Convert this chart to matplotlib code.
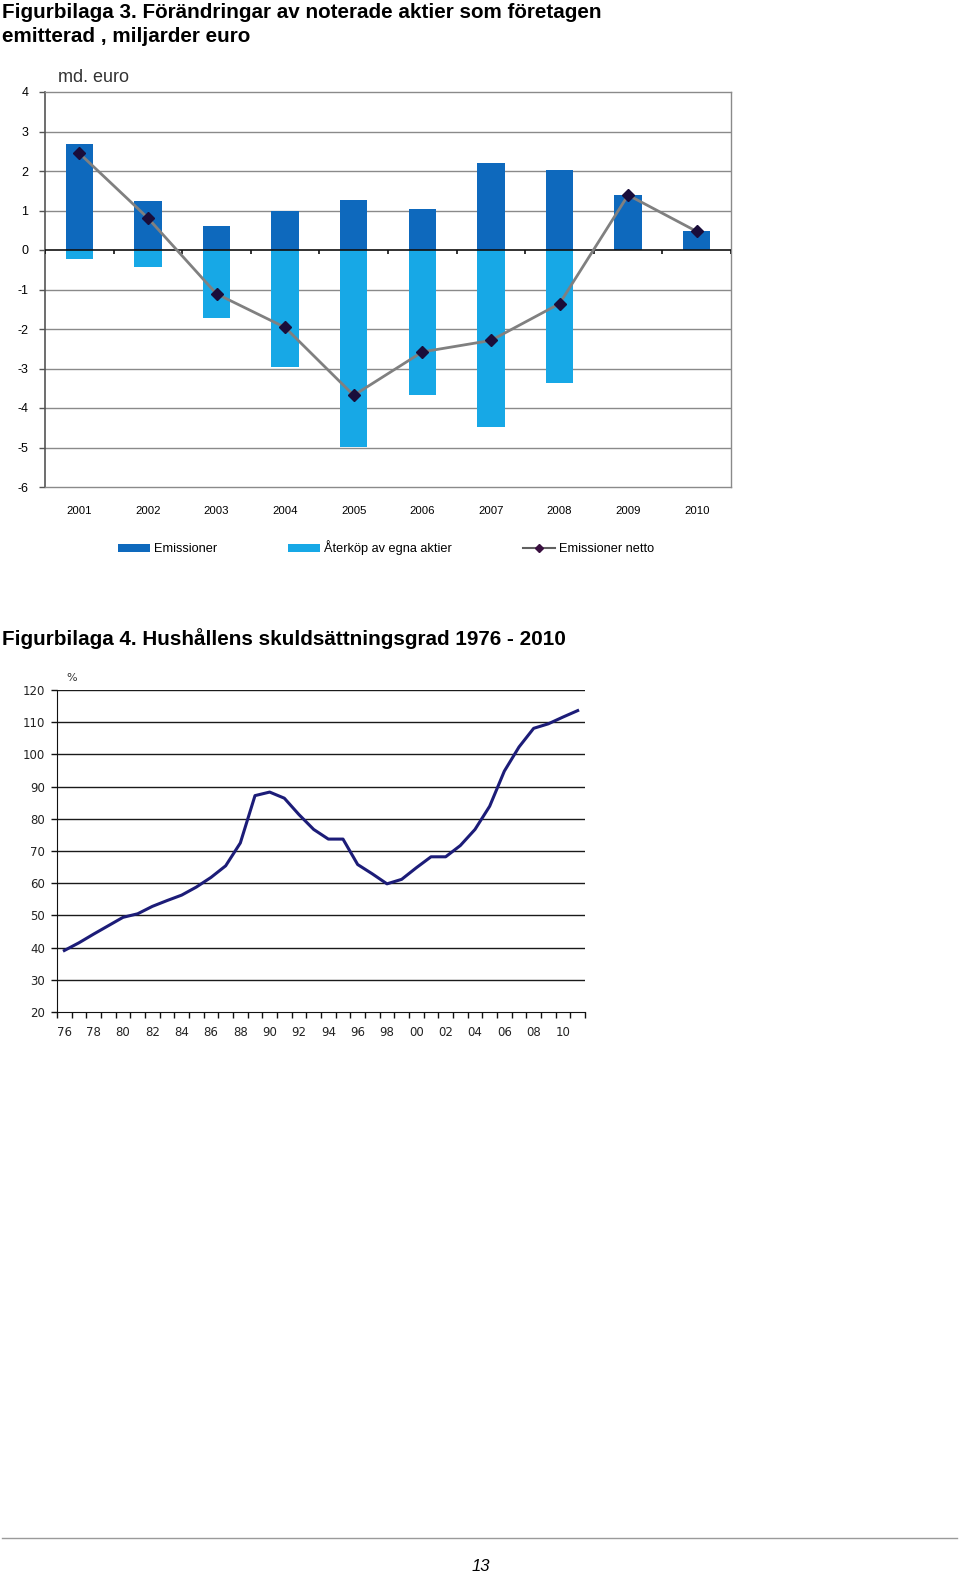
import numpy as np
import matplotlib
matplotlib.use("Agg")
import matplotlib.pyplot as plt
from matplotlib.lines import Line2D
from matplotlib.patches import Patch

# ---------------- data ----------------
years1 = ["2001", "2002", "2003", "2004", "2005", "2006", "2007", "2008", "2009", "2010"]
emissioner = [2.69, 1.23, 0.60, 1.00, 1.26, 1.05, 2.21, 2.02, 1.39, 0.49]
aterkop = [-0.24, -0.42, -1.73, -2.95, -4.99, -3.66, -4.49, -3.37, 0.0, 0.0]
netto = [2.45, 0.81, -1.11, -1.96, -3.68, -2.58, -2.29, -1.36, 1.39, 0.47]
y1_ticks = [4, 3, 2, 1, 0, -1, -2, -3, -4, -5, -6]

hh_years = list(range(1976, 2012))
hh_values = [39.1, 41.5, 44.2, 46.8, 49.4, 50.5, 52.8, 54.6, 56.3, 58.8,
             61.8, 65.4, 72.5, 87.2, 88.3, 86.4, 81.3, 76.7, 73.7, 73.7,
             65.8, 62.9, 59.8, 61.2, 64.8, 68.2, 68.2, 71.7, 76.7, 83.9,
             94.8, 102.3, 108.1, 109.5, 111.6, 113.6]
hh_label_years = list(range(1976, 2012, 2))
hh_labels = ["76", "78", "80", "82", "84", "86", "88", "90", "92", "94",
             "96", "98", "00", "02", "04", "06", "08", "10"]
y2_ticks = [20, 30, 40, 50, 60, 70, 80, 90, 100, 110, 120]

title2 = "Figurbilaga 4. Hushållens skuldsättningsgrad 1976 - 2010"

# ---------------- figure ----------------
W, H = 960, 1572
fig = plt.figure(figsize=(W / 100, H / 100), dpi=100)
fig.patch.set_facecolor("white")

def fx(px):
    return px / W

def fy(py):
    return 1 - py / H

TF = "Liberation Sans"
col_dark = "#0e69bd"
col_light = "#17a8e6"
grid_col = "#8a8a8a"

# titles
fig.text(fx(2), fy(17.5), "Figurbilaga 3. Förändringar av noterade aktier som företagen",
         fontsize=14.9, fontweight="bold", family=TF, va="baseline", ha="left")
fig.text(fx(2), fy(41.5), "emitterad , miljarder euro",
         fontsize=14.9, fontweight="bold", family=TF, va="baseline", ha="left")
fig.text(fx(2), fy(645), title2,
         fontsize=14.9, fontweight="bold", family=TF, va="baseline", ha="left")

# ---------------- chart 1 ----------------
ax1 = fig.add_axes([fx(45), fy(487), fx(731) - fx(45), fy(92) - fy(487)])
x = np.arange(len(years1))
ax1.bar(x, emissioner, width=0.4, color=col_dark, zorder=3)
ax1.bar(x, aterkop, width=0.4, color=col_light, zorder=3)
ax1.plot(x, netto, color="#808080", lw=2, marker="D", markersize=6,
         markerfacecolor="#1a0d3a", markeredgecolor="#1a0d3a", zorder=5)
ax1.set_xlim(-0.5, len(years1) - 0.5)
ax1.set_ylim(-6, 4)
ax1.set_yticks(y1_ticks)
ax1.set_yticklabels([str(v) for v in y1_ticks], family=TF, fontsize=9)
ax1.set_xticks(x)
ax1.set_xticklabels(years1, family=TF, fontsize=8.2)
ax1.tick_params(axis="x", length=0, pad=13.5)
ax1.tick_params(axis="y", length=4, pad=8, color="#555555", width=1)
for yv in y1_ticks:
    if yv not in (0, -6, 4):
        ax1.axhline(yv, color=grid_col, lw=1, zorder=1)
ax1.axhline(0, color="#111111", lw=1.2, zorder=4)
ax1.vlines(np.arange(len(years1) + 1) - 0.5, -0.1, 0, color="#111111", lw=1.2, zorder=4)
for s in ["top", "right", "bottom"]:
    ax1.spines[s].set_color(grid_col)
    ax1.spines[s].set_linewidth(1)
ax1.spines["left"].set_color("#555555")
ax1.spines["left"].set_linewidth(1.2)
fig.text(fx(58), fy(82), "md. euro", family=TF, fontsize=13, color="#333333",
         va="baseline", ha="left")

handles = [Patch(facecolor=col_dark, edgecolor="none"),
           Patch(facecolor=col_light, edgecolor="none"),
           Line2D([0], [0], color="#606060", lw=1.5, marker="D", markersize=4,
                  markerfacecolor="#3a1040", markeredgecolor="#3a1040")]
leg = fig.legend(handles, ["Emissioner", "Återköp av egna aktier", "Emissioner netto"],
                 loc="center", bbox_to_anchor=(fx(386), fy(548)), ncol=3, frameon=False,
                 prop={"family": TF, "size": 9.2}, handlelength=2.5, handleheight=0.5,
                 columnspacing=5.6, handletextpad=0.3)

# ---------------- chart 2 ----------------
ax2 = fig.add_axes([fx(57), fy(1012), fx(585) - fx(57), fy(690) - fy(1012)])
ax2.plot(hh_years, hh_values, color="#1c1c78", lw=2.2, zorder=3)
ax2.set_xlim(hh_years[0] - 0.5, hh_years[-1] + 0.5)
ax2.set_ylim(20, 120)
ax2.set_yticks(y2_ticks)
ax2.set_yticklabels([str(v) for v in y2_ticks], fontsize=8.5, color="#222222")
for yv in y2_ticks[1:]:
    ax2.axhline(yv, color="#1a1a1a", lw=1, zorder=1)
ax2.set_xticks(hh_label_years)
ax2.set_xticklabels(hh_labels, fontsize=8.5, color="#222222")
ax2.set_xticks(np.arange(hh_years[0] - 0.5, hh_years[-1] + 1.0, 1.0), minor=True)
ax2.tick_params(axis="x", which="major", length=0, pad=10)
ax2.tick_params(axis="x", which="minor", length=4.5, width=1, color="#111111")
ax2.tick_params(axis="y", length=4, width=1, pad=4.5, color="#111111")
for s in ["top", "right"]:
    ax2.spines[s].set_visible(False)
ax2.spines["left"].set_color("#111111")
ax2.spines["bottom"].set_color("#111111")
fig.text(fx(66), fy(681), "%", fontsize=8, color="#333333", va="baseline", ha="left")

# ---------------- footer ----------------
fig.add_artist(Line2D([fx(2), fx(957)], [fy(1538), fy(1538)], color="#9a9a9a", lw=1))
fig.text(fx(481), fy(1571), "13", family=TF, fontsize=12, style="italic",
         va="baseline", ha="center")

fig.savefig("out.png", dpi=100, facecolor="white")
